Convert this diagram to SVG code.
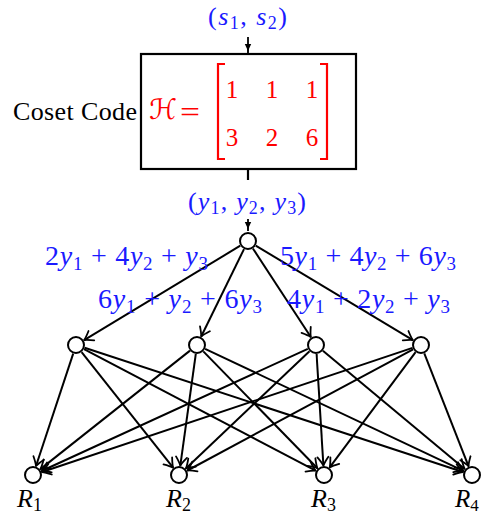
<svg xmlns="http://www.w3.org/2000/svg" width="483" height="516" viewBox="0 0 483 516">
<style>
.m{font-family:"Liberation Serif","Times New Roman",serif}
.b{fill:#1a1aff}
.r{fill:#ff0000}
.i{font-style:italic}
.node{fill:#fff;stroke:#000;stroke-width:2}
.e{stroke:#000;stroke-width:2;fill:none;marker-end:url(#ah)}
</style>
<defs>
<marker id="ah" viewBox="-10 -7 12 14" markerWidth="12" markerHeight="14" refX="0" refY="0" orient="auto" markerUnits="userSpaceOnUse">
<path d="M-8.5,-5.5 Q-3,-1.3 0,0 Q-3,1.3 -8.5,5.5" fill="none" stroke="#000" stroke-width="1.8" stroke-linecap="round" stroke-linejoin="round"/>
</marker>
<marker id="fh" viewBox="-9 -4 10 8" markerWidth="10" markerHeight="8" refX="0" refY="0" orient="auto" markerUnits="userSpaceOnUse">
<path d="M-9,-3.2 Q-4,-0.5 0,0 Q-4,0.5 -9,3.2 Z" fill="#000"/>
</marker>
</defs>

<g id="input-label">
<text class="m b" x="208" y="25" font-size="26" textLength="79">(<tspan class="i">s</tspan><tspan font-size="18" dy="4">1</tspan><tspan dy="-4">, </tspan><tspan class="i">s</tspan><tspan font-size="18" dy="4">2</tspan><tspan dy="-4">)</tspan></text>
</g>

<g id="coset-code">
<rect x="141" y="54" width="215" height="115" fill="#fff" stroke="#000" stroke-width="2.2"/>
<text class="m" x="13" y="120" font-size="26" textLength="124">Coset Code</text>
<text class="r" x="149" y="119" font-size="28" font-family="DejaVu Serif, DejaVu Sans, serif" font-style="italic">ℋ</text>
<text class="m r" x="180" y="122" font-size="30" textLength="20" lengthAdjust="spacingAndGlyphs">=</text>
<path d="M225,64 H218 V159 H225 M320,64 H327 V159 H320" fill="none" stroke="#ff0000" stroke-width="2.2"/>
<g class="m r" font-size="25" text-anchor="middle">
<text x="232" y="98">1</text><text x="272" y="98">1</text><text x="312" y="98">1</text>
<text x="232" y="146">3</text><text x="272" y="146">2</text><text x="312" y="146">6</text>
</g>
</g>

<g id="output-label">
<text class="m b" x="188" y="210" font-size="26" textLength="118">(<tspan class="i">y</tspan><tspan font-size="18" dy="4">1</tspan><tspan dy="-4">, </tspan><tspan class="i">y</tspan><tspan font-size="18" dy="4">2</tspan><tspan dy="-4">, </tspan><tspan class="i">y</tspan><tspan font-size="18" dy="4">3</tspan><tspan dy="-4">)</tspan></text>
</g>

<g id="connectors">
<line x1="248" y1="37" x2="248" y2="53" stroke="#000" stroke-width="1.8" marker-end="url(#fh)"/>
<line x1="248" y1="169" x2="248" y2="180" stroke="#000" stroke-width="2.2"/>
<line x1="248" y1="219" x2="248" y2="231" stroke="#000" stroke-width="1.8" marker-end="url(#fh)"/>

<line class="e" x1="240.3" y1="245.7" x2="84.1" y2="340.1"/>
<line class="e" x1="244.0" y1="249.1" x2="201.2" y2="336.5"/>
<line class="e" x1="252.9" y1="248.5" x2="310.8" y2="337.0"/>
<line class="e" x1="255.7" y1="245.6" x2="412.9" y2="340.1"/>

<line class="e" x1="73.2" y1="353.6" x2="36.0" y2="466.0"/>
<line class="e" x1="81.6" y1="352.1" x2="173.1" y2="467.6"/>
<line class="e" x1="84.0" y1="349.2" x2="315.6" y2="470.6"/>
<line class="e" x1="84.6" y1="347.8" x2="463.0" y2="472.0"/>

<line class="e" x1="190.0" y1="350.6" x2="40.4" y2="469.1"/>
<line class="e" x1="195.8" y1="353.9" x2="180.3" y2="465.6"/>
<line class="e" x1="203.3" y1="351.4" x2="317.4" y2="468.2"/>
<line class="e" x1="205.1" y1="348.9" x2="463.4" y2="470.9"/>

<line class="e" x1="307.8" y1="348.8" x2="41.6" y2="471.0"/>
<line class="e" x1="309.5" y1="351.2" x2="185.9" y2="468.5"/>
<line class="e" x1="316.6" y1="354.0" x2="323.4" y2="465.5"/>
<line class="e" x1="322.9" y1="350.8" x2="464.7" y2="468.9"/>

<line class="e" x1="412.5" y1="347.9" x2="42.0" y2="472.0"/>
<line class="e" x1="413.1" y1="349.3" x2="187.4" y2="470.5"/>
<line class="e" x1="415.6" y1="352.2" x2="329.7" y2="467.4"/>
<line class="e" x1="424.3" y1="353.4" x2="468.5" y2="466.2"/>
</g>

<g id="edge-labels" class="m b" font-size="28">
<text x="45" y="265" textLength="163">2<tspan class="i">y</tspan><tspan font-size="19" dy="5">1</tspan><tspan dy="-5"> + 4</tspan><tspan class="i">y</tspan><tspan font-size="19" dy="5">2</tspan><tspan dy="-5"> + </tspan><tspan class="i">y</tspan><tspan font-size="19" dy="5">3</tspan></text>
<text x="280" y="265" textLength="176">5<tspan class="i">y</tspan><tspan font-size="19" dy="5">1</tspan><tspan dy="-5"> + 4</tspan><tspan class="i">y</tspan><tspan font-size="19" dy="5">2</tspan><tspan dy="-5"> + 6</tspan><tspan class="i">y</tspan><tspan font-size="19" dy="5">3</tspan></text>
<text x="98" y="308" textLength="164">6<tspan class="i">y</tspan><tspan font-size="19" dy="5">1</tspan><tspan dy="-5"> + </tspan><tspan class="i">y</tspan><tspan font-size="19" dy="5">2</tspan><tspan dy="-5"> + 6</tspan><tspan class="i">y</tspan><tspan font-size="19" dy="5">3</tspan></text>
<text x="287" y="308" textLength="163">4<tspan class="i">y</tspan><tspan font-size="19" dy="5">1</tspan><tspan dy="-5"> + 2</tspan><tspan class="i">y</tspan><tspan font-size="19" dy="5">2</tspan><tspan dy="-5"> + </tspan><tspan class="i">y</tspan><tspan font-size="19" dy="5">3</tspan></text>
</g>

<g id="n-top"><circle class="node" cx="248" cy="241" r="8"/></g>
<g id="n-m1"><circle class="node" cx="76" cy="345" r="8"/></g>
<g id="n-m2"><circle class="node" cx="197" cy="345" r="8"/></g>
<g id="n-m3"><circle class="node" cx="316" cy="345" r="8"/></g>
<g id="n-m4"><circle class="node" cx="421" cy="345" r="8"/></g>

<g id="n-r1"><circle class="node" cx="33" cy="475" r="8"/>
<text class="m" x="17" y="507" font-size="26"><tspan class="i">R</tspan><tspan font-size="18" dy="4">1</tspan></text></g>
<g id="n-r2"><circle class="node" cx="179" cy="475" r="8"/>
<text class="m" x="166" y="507" font-size="26"><tspan class="i">R</tspan><tspan font-size="18" dy="4">2</tspan></text></g>
<g id="n-r3"><circle class="node" cx="324" cy="475" r="8"/>
<text class="m" x="311" y="507" font-size="26"><tspan class="i">R</tspan><tspan font-size="18" dy="4">3</tspan></text></g>
<g id="n-r4"><circle class="node" cx="472" cy="475" r="8"/>
<text class="m" x="455" y="507" font-size="25"><tspan class="i">R</tspan><tspan font-size="17" dy="4">4</tspan></text></g>
</svg>
